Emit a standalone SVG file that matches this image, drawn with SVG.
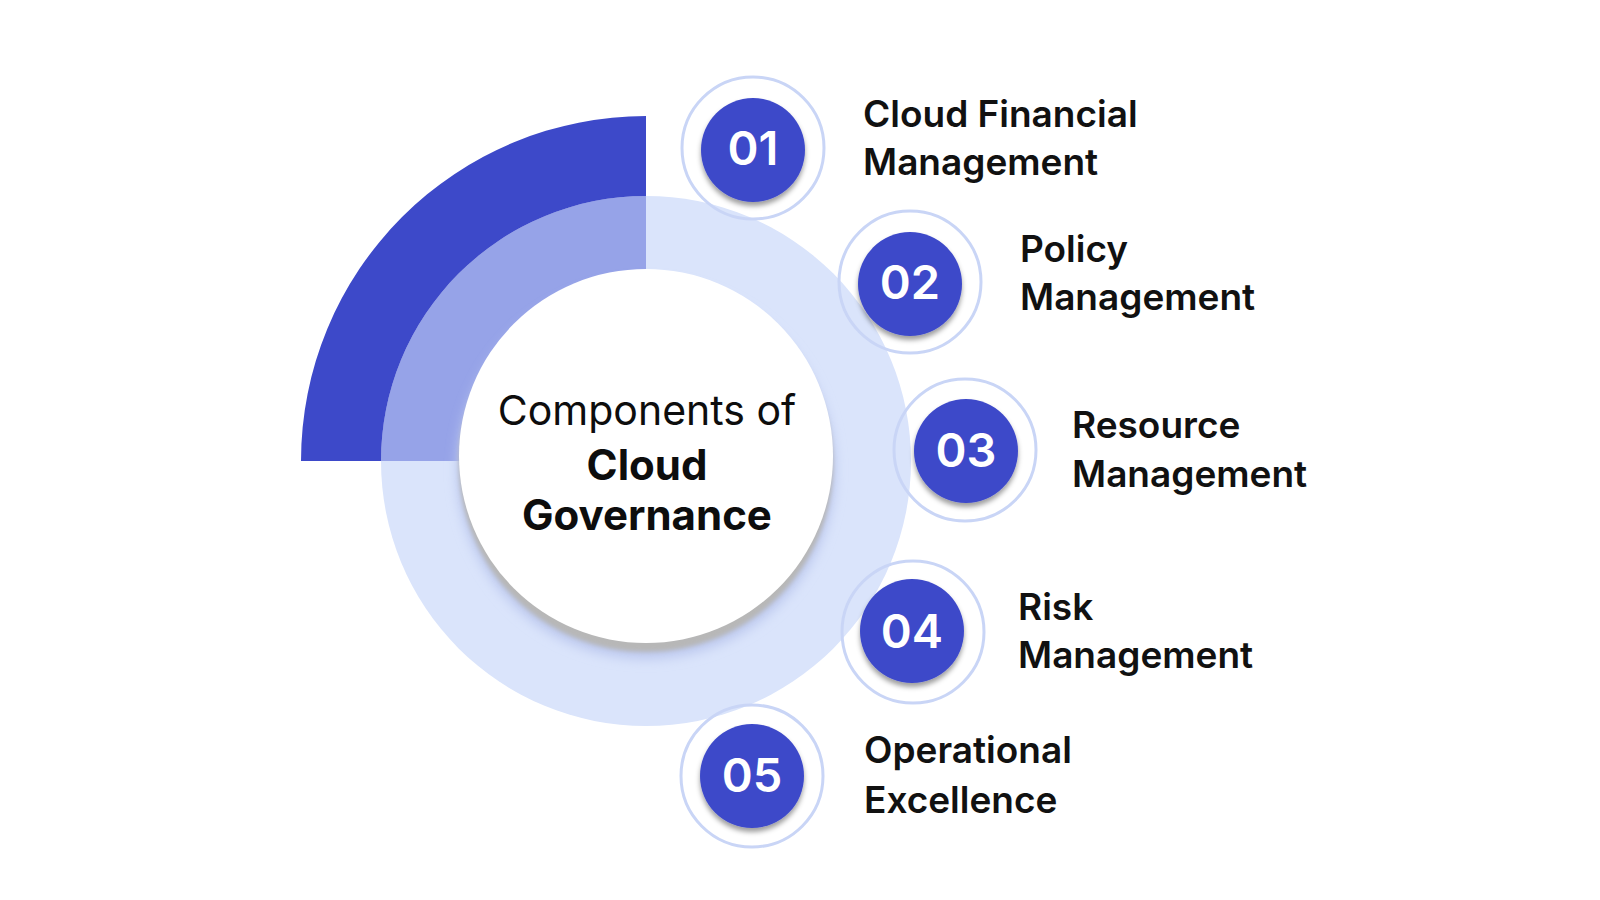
<svg xmlns="http://www.w3.org/2000/svg" width="1600" height="900" viewBox="0 0 1600 900">
  <defs>
    <filter id="nodeShadow" x="-30%" y="-30%" width="160%" height="170%">
      <feDropShadow dx="0" dy="4" stdDeviation="2.5" flood-color="#000" flood-opacity="0.38"/>
    </filter>
    <filter id="blur2" x="-10%" y="-10%" width="120%" height="120%">
      <feGaussianBlur stdDeviation="2"/>
    </filter>
    <filter id="blur6" x="-10%" y="-10%" width="120%" height="120%">
      <feGaussianBlur stdDeviation="6"/>
    </filter>
    <style>
      .halo { fill: none; stroke: #c9d5f6; stroke-width: 3; }
      .disc { fill: #3d49c9; filter: url(#nodeShadow); }
      .num { font-family: Inter, "Liberation Sans", sans-serif; font-weight: 600; font-size: 47px; fill: #ffffff; text-anchor: middle; }
      .label { font-family: Inter, "Liberation Sans", sans-serif; font-weight: 600; font-size: 37px; fill: #111111; }
      .title { font-family: Inter, "Liberation Sans", sans-serif; fill: #0d0d0d; text-anchor: middle; }
    </style>
  </defs>
  <rect width="1600" height="900" fill="#ffffff"/>

  <g id="center">
    <circle cx="646" cy="461" r="265" fill="#dae4fb"/>
    <path d="M 646 461 L 381 461 A 265 265 0 0 1 646 196 Z" fill="#96a3e8"/>
    <path d="M 301 461 A 345 345 0 0 1 646 116 L 646 196 A 265 265 0 0 0 381 461 Z" fill="#3d49c9"/>
    <circle cx="646" cy="470" r="189" fill="#bcc8ee" filter="url(#blur6)"/>
    <circle cx="646" cy="465" r="187" fill="#b7b7b7" filter="url(#blur2)"/>
    <circle cx="646" cy="456" r="187" fill="#ffffff"/>
    <text class="title" x="647" y="425" font-size="41" font-weight="400">Components of</text>
    <text class="title" x="647" y="480" font-size="42" font-weight="700">Cloud</text>
    <text class="title" x="647" y="530" font-size="42" font-weight="700">Governance</text>
  </g>

  <g id="connectors"></g>

  <g id="node-01">
    <circle class="halo" cx="753" cy="148" r="71"/>
    <circle class="disc" cx="753" cy="150" r="52"/>
    <text class="num" x="753" y="165">01</text>
    <text class="label" x="863" y="127">Cloud Financial</text>
    <text class="label" x="863" y="175">Management</text>
  </g>

  <g id="node-02">
    <circle class="halo" cx="910" cy="282" r="71"/>
    <circle class="disc" cx="910" cy="284" r="52"/>
    <text class="num" x="910" y="299">02</text>
    <text class="label" x="1020" y="262">Policy</text>
    <text class="label" x="1020" y="310">Management</text>
  </g>

  <g id="node-03">
    <circle class="halo" cx="965" cy="450" r="71"/>
    <circle class="disc" cx="966" cy="451" r="52"/>
    <text class="num" x="966" y="467">03</text>
    <text class="label" x="1072" y="438">Resource</text>
    <text class="label" x="1072" y="487">Management</text>
  </g>

  <g id="node-04">
    <circle class="halo" cx="913" cy="632" r="71"/>
    <circle class="disc" cx="912" cy="631" r="52"/>
    <text class="num" x="912" y="648">04</text>
    <text class="label" x="1018" y="620">Risk</text>
    <text class="label" x="1018" y="668">Management</text>
  </g>

  <g id="node-05">
    <circle class="halo" cx="752" cy="776" r="71"/>
    <circle class="disc" cx="752" cy="776" r="52"/>
    <text class="num" x="752" y="792">05</text>
    <text class="label" x="864" y="763">Operational</text>
    <text class="label" x="864" y="813">Excellence</text>
  </g>
</svg>
